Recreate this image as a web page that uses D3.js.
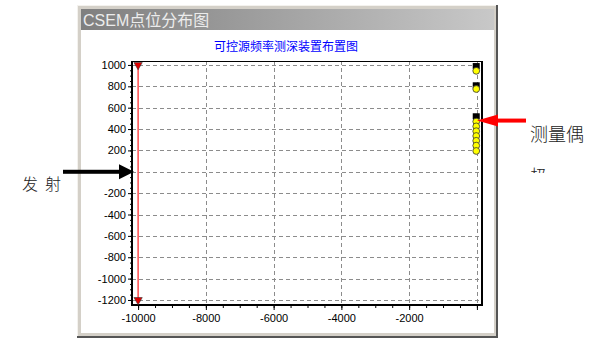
<!DOCTYPE html>
<html>
<head>
<meta charset="utf-8">
<script src="https://cdn.jsdelivr.net/npm/d3@7"></script>
<style>
  html, body { margin: 0; padding: 0; background: #ffffff; }
  svg { display: block; }
</style>
</head>
<body>
<svg id="chart" width="591" height="340"></svg>
<script>
// Station layout data
const xTicks = [-10000, -8000, -6000, -4000, -2000, 0];
const xTickLabels = ["-10000", "-8000", "-6000", "-4000", "-2000", ""];
const yTicks = [1000, 800, 600, 400, 200, 0, -200, -400, -600, -800, -1000, -1200];
const yTickLabels = ["1000", "800", "600", "400", "200", "", "-200", "-400", "-600", "-800", "-1000", "-1200"];

// Transmitter line (AB) along x = -10000
const sourceX = [-10000, -10000];
const sourceY = [1000, -1200];

// Receiver dipole markers (black) and measuring points (yellow)
const dipoleX = [-20, -20, -20];
const dipoleY = [985, 805, 515];
const stationX = [-20, -20, -20, -20, -20, -20, -20, -20, -20];
const stationY = [945, 775, 470, 425, 380, 335, 290, 245, 195];

const windowTitle = "CSEM点位分布图";
const chartTitle = "可控源频率测深装置布置图";
const leftNote = ["发", "射"];
const rightNote = ["测量偶", "极"];

const svg = d3.select("#chart");
const defs = svg.append("defs");

// window frame
const grad = defs.append("linearGradient").attr("id", "titleGrad")
  .attr("x1", "0").attr("x2", "1").attr("y1", "0").attr("y2", "0");
grad.append("stop").attr("offset", "0").attr("stop-color", "#7f7f7f");
grad.append("stop").attr("offset", "1").attr("stop-color", "#c8c8c8");

svg.append("rect").attr("x", 77).attr("y", 5).attr("width", 421).attr("height", 333)
  .attr("fill", "#d4d0c8");
svg.append("line").attr("x1", 77).attr("x2", 498).attr("y1", 5.5).attr("y2", 5.5).attr("stroke", "#f4f2ee");
svg.append("line").attr("x1", 77.5).attr("x2", 77.5).attr("y1", 5).attr("y2", 338).attr("stroke", "#f4f2ee");
svg.append("rect").attr("x", 496).attr("y", 5).attr("width", 2).attr("height", 333).attr("fill", "#555");
svg.append("rect").attr("x", 77).attr("y", 336).attr("width", 421).attr("height", 2).attr("fill", "#555");
svg.append("rect").attr("x", 81).attr("y", 30).attr("width", 413).attr("height", 303).attr("fill", "#ffffff");
svg.append("rect").attr("x", 81).attr("y", 9).attr("width", 413).attr("height", 21).attr("fill", "url(#titleGrad)");
svg.append("text").attr("x", 83).attr("y", 26)
  .attr("font-family", "'Liberation Sans', Arial, 'Noto Sans CJK SC', sans-serif")
  .attr("font-size", 16).attr("fill", "#ececec").text(windowTitle);

// plot area
const plot = { left: 132, right: 482, top: 61, bottom: 305 };
const x = d3.scaleLinear().domain([-10180, 150]).range([plot.left, plot.right]);
const y = d3.scaleLinear().domain([-1247, 1037]).range([plot.bottom, plot.top]);

svg.append("text").attr("x", 286).attr("y", 51).attr("text-anchor", "middle")
  .attr("font-family", "'Noto Sans CJK SC', sans-serif").attr("font-size", 12)
  .attr("fill", "#0000ff").text(chartTitle);

// grid
const grid = svg.append("g").attr("stroke", "#8c8c8c").attr("stroke-dasharray", "4,3").attr("stroke-width", 1);
yTicks.forEach(v => {
  grid.append("line").attr("x1", plot.left).attr("x2", plot.right)
    .attr("y1", Math.round(y(v)) + 0.5).attr("y2", Math.round(y(v)) + 0.5);
});
xTicks.slice(1).forEach(v => {
  grid.append("line").attr("y1", plot.top).attr("y2", plot.bottom)
    .attr("x1", Math.round(x(v)) + 0.5).attr("x2", Math.round(x(v)) + 0.5);
});

// axes
const font = "'Liberation Sans', Arial, sans-serif";
const yAxis = d3.axisLeft(y).tickValues(yTicks).tickSize(4).tickPadding(2)
  .tickFormat((d, i) => yTickLabels[i]);
const gy = svg.append("g").attr("transform", `translate(${plot.left},0)`).call(yAxis);
gy.select(".domain").remove();
gy.selectAll("text").attr("font-family", font).attr("font-size", 11).attr("fill", "#000");
const yMinor = d3.axisLeft(y).tickValues(d3.range(-1200, 1001, 50)).tickSize(2).tickFormat("");
const gym = svg.append("g").attr("transform", `translate(${plot.left},0)`).call(yMinor);
gym.select(".domain").remove();

const xAxis = d3.axisBottom(x).tickValues(xTicks).tickSize(5).tickPadding(4)
  .tickFormat((d, i) => xTickLabels[i]);
const gx = svg.append("g").attr("transform", `translate(0,${plot.bottom})`).call(xAxis);
gx.select(".domain").remove();
gx.selectAll("text").attr("font-family", font).attr("font-size", 11).attr("fill", "#000");
const xMinor = d3.axisBottom(x).tickValues(d3.range(-10000, 1, 500)).tickSize(3).tickFormat("");
const gxm = svg.append("g").attr("transform", `translate(0,${plot.bottom})`).call(xMinor);
gxm.select(".domain").remove();

// plot border
svg.append("line").attr("x1", plot.left).attr("x2", plot.right).attr("y1", plot.top + 0.5).attr("y2", plot.top + 0.5).attr("stroke", "#000");
svg.append("line").attr("x1", plot.right).attr("x2", plot.right).attr("y1", plot.top).attr("y2", plot.bottom).attr("stroke", "#000").attr("stroke-width", 2);
svg.append("line").attr("x1", plot.left).attr("x2", plot.left).attr("y1", plot.top).attr("y2", plot.bottom + 1).attr("stroke", "#000").attr("stroke-width", 2);
svg.append("line").attr("x1", plot.left - 1).attr("x2", plot.right + 1).attr("y1", plot.bottom).attr("y2", plot.bottom).attr("stroke", "#000").attr("stroke-width", 2);

// transmitter line
svg.append("line").attr("x1", x(sourceX[0])).attr("x2", x(sourceX[1]))
  .attr("y1", y(sourceY[0])).attr("y2", y(sourceY[1])).attr("stroke", "#ff2020").attr("stroke-width", 1.2);
const tri = d3.symbol().type(d3.symbolTriangle).size(30);
sourceX.forEach((v, i) => {
  svg.append("path").attr("d", tri())
    .attr("transform", `translate(${x(v)},${y(sourceY[i])}) rotate(180)`)
    .attr("fill", "#e00000").attr("stroke", "#333").attr("stroke-width", 0.6);
});

// receiver markers
dipoleX.forEach((v, i) => {
  svg.append("rect").attr("x", x(v) - 3.5).attr("y", y(dipoleY[i]) - 3.5)
    .attr("width", 7).attr("height", 6).attr("fill", "#000");
});
stationX.forEach((v, i) => {
  svg.append("circle").attr("cx", x(v)).attr("cy", y(stationY[i])).attr("r", 3.4)
    .attr("fill", "#ffff00").attr("stroke", "#333").attr("stroke-width", 0.8);
});

// annotation arrows
const yZero = y(0);
svg.append("rect").attr("x", 63).attr("y", yZero - 2).attr("width", 58).attr("height", 4).attr("fill", "#000");
svg.append("path").attr("d", `M119,${yZero - 7.5} L134,${yZero} L119,${yZero + 7.5} Z`).attr("fill", "#000");
const leftText = svg.append("g").attr("font-family", "'Noto Sans CJK SC', sans-serif")
  .attr("font-size", 16).attr("font-weight", 300).attr("fill", "#222");
leftText.append("text").attr("x", 22).attr("y", yZero + 18).text(leftNote[0]);
leftText.append("text").attr("x", 45).attr("y", yZero + 18).text(leftNote[1]);

const yArrow = y(stationY[2]) - 1;
svg.append("rect").attr("x", 496).attr("y", yArrow - 2).attr("width", 30).attr("height", 4).attr("fill", "#ff0000");
svg.append("path").attr("d", `M498,${yArrow - 6} L477,${yArrow} L498,${yArrow + 6} Z`).attr("fill", "#ff0000");

defs.append("clipPath").attr("id", "noteClip").append("rect")
  .attr("x", 520).attr("y", 0).attr("width", 80).attr("height", 173);
const note = svg.append("g").attr("clip-path", "url(#noteClip)")
  .attr("font-family", "'Noto Sans CJK SC', sans-serif").attr("font-size", 18)
  .attr("font-weight", 300).attr("fill", "#222");
note.append("text").attr("x", 530).attr("y", 141).text(rightNote[0]);
note.append("text").attr("x", 530).attr("y", 183).text(rightNote[1]);
</script>
</body>
</html>
